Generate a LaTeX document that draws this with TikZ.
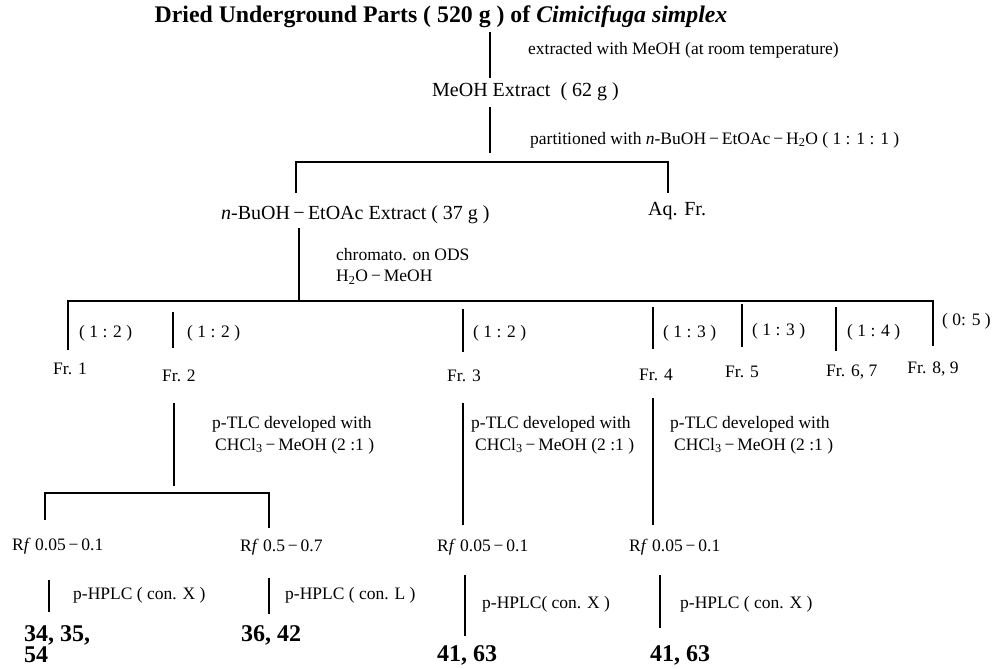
\documentclass[tikz,border=0pt]{standalone}
\usepackage{fontspec}
\setmainfont{Liberation Serif}
\newcommand\ftitle{\fontsize{23.8}{26}\selectfont\bfseries}
\newcommand\fmain{\fontsize{20}{23}\selectfont}
\newcommand\flab{\fontsize{17.5}{20}\selectfont}
\newcommand\fnum{\fontsize{24}{26}\selectfont\bfseries}
\tikzset{
  lbl/.style={anchor=west, inner sep=0pt, font=\flab},
  mainlbl/.style={anchor=west, inner sep=0pt, font=\fmain},
  numlbl/.style={anchor=west, inner sep=0pt, font=\fnum},
  ln/.style={line width=1.1pt, line cap=butt},
}
\begin{document}
\begin{tikzpicture}[x=1pt,y=-1pt]
\useasboundingbox (0,0) rectangle (993,669);

% top
\node[anchor=center, inner sep=0pt, font=\ftitle] (title) at (441,17) {Dried Underground Parts ( 520 g ) of \textit{Cimicifuga simplex}};
\coordinate (l1a) at (490,32); \coordinate (l1b) at (490,78);
\draw[ln] (l1a) -- (l1b);
\node[lbl] (ext) at (528,50) {extracted with MeOH (at room temperature)};
\node[mainlbl] (meoh) at (432,92) {MeOH Extract\ \ ( 62 g )};
\coordinate (l2a) at (490,107); \coordinate (l2b) at (490,153);
\draw[ln] (l2a) -- (l2b);
\node[lbl] (part) at (530,140) {partitioned with \textit{n}-BuOH\,−\,EtOAc\,−\,H\textsubscript{2}O ( 1 : 1 : 1 )};

% partition bracket
\coordinate (b1l) at (296,193); \coordinate (b1r) at (668,193);
\draw[ln] (b1l) |- (668,162) -- (b1r);
\node[mainlbl] (buoh) at (221,215) {\textit{n}-BuOH\,−\,EtOAc Extract ( 37 g )};
\node[mainlbl] (aq) at (648,211) {Aq. Fr.};
\coordinate (l3a) at (299,228); \coordinate (l3b) at (299,301);
\draw[ln] (l3a) -- (l3b);
\node[lbl] (chrom) at (336,255) {chromato. on ODS};
\node[lbl] (h2o) at (336,277) {H\textsubscript{2}O\,−\,MeOH};

% long horizontal with drops
\coordinate (hL) at (68,301); \coordinate (hR) at (933,301);
\draw[ln] (68,350) -- (hL) -- (hR) -- (933,346);
\coordinate (d2a) at (173,312); \coordinate (d2b) at (173,348);
\coordinate (d3a) at (463,309); \coordinate (d3b) at (463,352);
\coordinate (d4a) at (653,307); \coordinate (d4b) at (653,349);
\coordinate (d5a) at (742,304); \coordinate (d5b) at (742,347);
\coordinate (d6a) at (836,307); \coordinate (d6b) at (836,351);
\draw[ln] (d2a) -- (d2b);
\draw[ln] (d3a) -- (d3b);
\draw[ln] (d4a) -- (d4b);
\draw[ln] (d5a) -- (d5b);
\draw[ln] (d6a) -- (d6b);

\node[lbl] (r1) at (79,333) {( 1 : 2 )};
\node[lbl] (r2) at (187,333) {( 1 : 2 )};
\node[lbl] (r3) at (473,333) {( 1 : 2 )};
\node[lbl] (r4) at (663,333) {( 1 : 3 )};
\node[lbl] (r5) at (752,331) {( 1 : 3 )};
\node[lbl] (r6) at (847,332) {( 1 : 4 )};
\node[lbl] (r7) at (942,321) {( 0: 5 )};

\node[lbl, anchor=center] (f1) at (70,369) {Fr. 1};
\node[lbl] (f2) at (162,376) {Fr. 2};
\node[lbl, anchor=center] (f3) at (464,376) {Fr. 3};
\node[lbl] (f4) at (639,375) {Fr. 4};
\node[lbl, anchor=center] (f5) at (742,372) {Fr. 5};
\node[lbl] (f6) at (826,372) {Fr. 6, 7};
\node[lbl, anchor=center] (f8) at (933,369) {Fr. 8, 9};

% Fr. 2 branch
\coordinate (e2a) at (174,403); \coordinate (e2b) at (174,486);
\draw[ln] (e2a) -- (e2b);
\node[lbl] (t2a) at (212,424) {p-TLC developed with};
\node[lbl] (t2b) at (215,446) {CHCl\textsubscript{3}\,−\,MeOH (2 :1 )};
\coordinate (sbl) at (45,520); \coordinate (sbr) at (269,528);
\draw[ln] (sbl) |- (269,493) -- (sbr);
\node[lbl] (rf1) at (12,546) {R\textit{f} 0.05\,−\,0.1};
\node[lbl] (rf2) at (240,547) {R\textit{f} 0.5\,−\,0.7};
\coordinate (s1a) at (49,580); \coordinate (s1b) at (49,612);
\draw[ln] (s1a) -- (s1b);
\node[lbl] (h1) at (73,595) {p-HPLC ( con. X )};
\coordinate (s2a) at (269,578); \coordinate (s2b) at (269,614);
\draw[ln] (s2a) -- (s2b);
\node[lbl] (h2) at (285,595) {p-HPLC ( con. L )};
\node[numlbl] (n1) at (24,635) {34, 35,};
\node[numlbl] (n1b) at (24,655) {54};
\node[numlbl] (n2) at (241,635) {36, 42};

% Fr. 3 branch
\coordinate (e3a) at (463,403); \coordinate (e3b) at (463,525);
\draw[ln] (e3a) -- (e3b);
\node[lbl] (t3a) at (471,424) {p-TLC developed with};
\node[lbl] (t3b) at (475,446) {CHCl\textsubscript{3}\,−\,MeOH (2 :1 )};
\node[lbl] (rf3) at (437,547) {R\textit{f} 0.05\,−\,0.1};
\coordinate (s3a) at (465,575); \coordinate (s3b) at (465,636);
\draw[ln] (s3a) -- (s3b);
\node[lbl] (h3) at (482,604) {p-HPLC( con. X )};
\node[numlbl] (n3) at (437,655) {41, 63};

% Fr. 4 branch
\coordinate (e4a) at (653,398); \coordinate (e4b) at (653,525);
\draw[ln] (e4a) -- (e4b);
\node[lbl] (t4a) at (670,424) {p-TLC developed with};
\node[lbl] (t4b) at (674,446) {CHCl\textsubscript{3}\,−\,MeOH (2 :1 )};
\node[lbl] (rf4) at (629,547) {R\textit{f} 0.05\,−\,0.1};
\coordinate (s4a) at (660,575); \coordinate (s4b) at (660,628);
\draw[ln] (s4a) -- (s4b);
\node[lbl] (h4) at (680,604) {p-HPLC ( con. X )};
\node[numlbl] (n4) at (650,655) {41, 63};
\end{tikzpicture}
\end{document}
